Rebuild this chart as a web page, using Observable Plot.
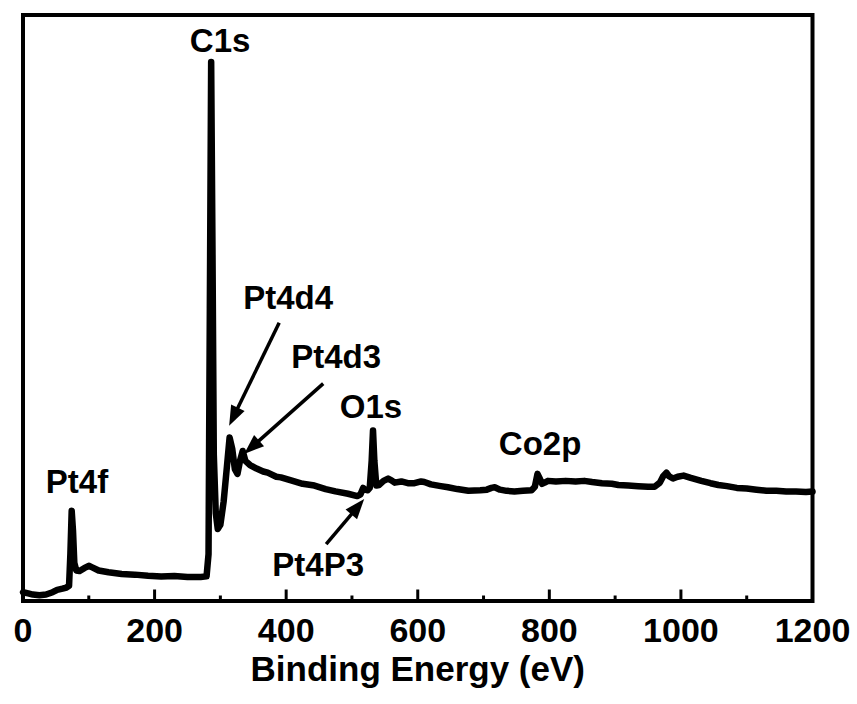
<!DOCTYPE html>
<html><head><meta charset="utf-8">
<script src="https://cdn.jsdelivr.net/npm/d3@7"></script>
<script src="https://cdn.jsdelivr.net/npm/@observablehq/plot@0.6"></script>
<style>
body{margin:0;background:#fff}
#chart svg{font-family:"Liberation Sans",Arial,sans-serif;}
</style>
</head><body><div id="chart"></div>
<script>
// XPS survey spectrum (arbitrary intensity units)
const energy = [0,8,15,25,35,45,52,60,66,70,72,74,76,78,81,86,93,100,106,115,130,150,170,190,210,230,250,270,279,282,284,286,288,290,293,296,300,305,310,314,318,322,326,330,334,338,345,355,365,372,385,392,410,425,443,460,475,494,508,513,517,520,524,527,530,532,534,537,541,548,555,560,565,575,585,595,605,610,620,635,646,660,677,695,705,712,717,725,735,747,760,773,778,782,785,789,793,798,810,825,840,853,865,880,895,905,920,935,950,960,968,973,978,982,988,995,1004,1015,1031,1045,1057,1070,1085,1100,1115,1130,1145,1160,1175,1190,1200];
const intensity = [1.5,1.3,1.1,1.0,1.1,1.5,1.9,2.1,2.3,2.6,8,15.4,12,6.5,5.2,5.1,5.6,6.0,5.7,5.2,4.9,4.6,4.5,4.3,4.2,4.25,4.1,4.1,4.2,8,50,92,60,25,15,12.3,13,17,23,27.9,26,22.5,21.7,24,25.6,23.9,23.2,22.6,22.1,21.9,21.2,21.1,20.5,20.0,19.7,19.1,18.7,18.3,17.9,18.2,19.3,19.0,18.9,19.3,24,29.1,24,19.7,19.8,20.5,20.9,20.6,20.2,20.4,20.1,20.1,20.4,20.3,19.9,19.6,19.4,19.1,18.8,18.9,19.0,19.3,19.4,19.0,18.8,18.7,18.8,18.9,19.5,21.7,21.0,20.0,20.2,20.5,20.4,20.5,20.4,20.5,20.3,20.1,20.0,19.8,19.7,19.6,19.5,19.5,20.2,21.3,21.9,21.3,20.9,21.2,21.4,21.0,20.5,20.1,19.8,19.6,19.3,19.2,19.0,18.8,18.8,18.7,18.7,18.6,18.7];

const majorTicks = [0,200,400,600,800,1000,1200];
const minorTicks = [100,300,500,700,900,1100];
const xTitle = "Binding Energy (eV)";

const peakLabels = ["C1s","Pt4f","Pt4d4","Pt4d3","O1s","Co2p","Pt4P3"];
const labelX = [299.6,82.1,403,476,529,786,448.7];
const labelY = [95.5,20.3,51.7,41.6,33.1,26.8,6.1];

const arrowX1 = [389.4,456.3,460.8];
const arrowY1 = [47.5,37.1,9.7];
const arrowX2 = [313.3,336.1,518.6];
const arrowY2 = [29.9,25.1,17.4];

const W = 857, H = 704;
const mL = 22.5, mR = 45, mT = 14.5, mB = 103.5;
const xDomain = [0,1200], yDomain = [0,100];
const X = Plot.scale({x:{domain:xDomain, range:[mL, W-mR]}});
const Y = Plot.scale({y:{domain:yDomain, range:[H-mB, mT]}});

const pts = energy.map((e,i)=>({e, v: intensity[i]}));
const labels = peakLabels.map((t,i)=>({t, x: labelX[i], y: labelY[i]}));
const headLen = 20;
const arrows = arrowX1.map((x1,i)=>{
  const dx = X.apply(arrowX2[i]) - X.apply(x1);
  const dy = Y.apply(arrowY2[i]) - Y.apply(arrowY1[i]);
  const len = Math.hypot(dx,dy);
  const t = 1 - (headLen-3)/len;
  return {x1, y1: arrowY1[i], x2: arrowX2[i], y2: arrowY2[i],
    xe: x1 + (arrowX2[i]-x1)*t, ye: arrowY1[i] + (arrowY2[i]-arrowY1[i])*t,
    rot: Math.atan2(dx, -dy)*180/Math.PI};
});

const chart = Plot.plot({
  width: W, height: H,
  marginLeft: mL, marginRight: mR, marginTop: mT, marginBottom: mB,
  style: {background:"white", color:"black", fontFamily:'"Liberation Sans",Arial,sans-serif', fontWeight:"bold", fontSize:"33px"},
  x: {domain: xDomain, label: null},
  y: {domain: yDomain, axis: null},
  marks: [
    Plot.axisX({ticks: majorTicks, tickSize: 0, tickPadding: 17, tickFormat: d=>String(d), fontSize: 34, fontWeight: "bold", label: null}),
    Plot.axisX({ticks: majorTicks, tickSize: -11, text: null, strokeWidth: 3, label: null}),
    Plot.axisX({ticks: minorTicks, tickSize: -5, text: null, strokeWidth: 3, label: null}),
    Plot.line(pts, {x:"e", y:"v", stroke:"black", strokeWidth:6.5, strokeLinejoin:"round", strokeLinecap:"round"}),
    Plot.frame({stroke:"black", strokeWidth:4}),
    Plot.text(labels, {x:"x", y:"y", text:"t", fontSize:33, fontWeight:"bold", fill:"black"}),
    Plot.link(arrows, {x1:"x1", y1:"y1", x2:"xe", y2:"ye", stroke:"black", strokeWidth:3.5}),
    Plot.vector(arrows, {x:"x2", y:"y2", rotate:"rot", length: headLen, anchor:"end", shape:"spike", r:7.5, fill:"black", stroke:"none"}),
    Plot.text([xTitle], {frameAnchor:"bottom", lineAnchor:"bottom", text: d=>d, dy:80, fontSize:35, fontWeight:"bold", fill:"black"})
  ]
});
document.getElementById("chart").appendChild(chart);
</script>
</body></html>
